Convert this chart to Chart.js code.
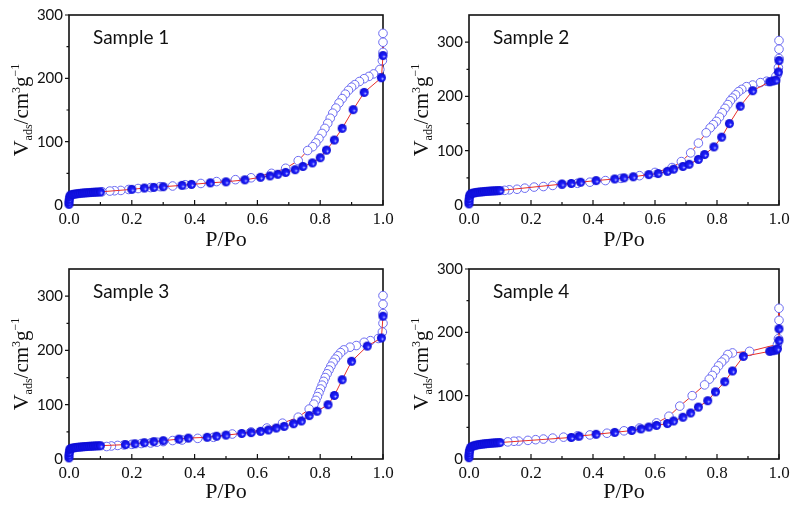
<!DOCTYPE html>
<html>
<head>
<meta charset="utf-8">
<script src="https://cdn.jsdelivr.net/npm/chart.js@4.4.0/dist/chart.umd.min.js"></script>
<style>
html, body { margin: 0; padding: 0; background: #fff; }
#wrap { position: relative; width: 796px; height: 506px; }
canvas { position: absolute; }
</style>
</head>
<body>
<div id="wrap">
  <canvas id="c1" width="400" height="254" style="left:0;top:0"></canvas>
  <canvas id="c2" width="396" height="254" style="left:400px;top:0"></canvas>
  <canvas id="c3" width="400" height="252" style="left:0;top:254px"></canvas>
  <canvas id="c4" width="396" height="252" style="left:400px;top:254px"></canvas>
</div>
<script>
// axis ticks
const xTicks = [0, 0.2, 0.4, 0.6, 0.8, 1.0];
const xMinorTicks = [0.1, 0.3, 0.5, 0.7, 0.9];
const yTicks = [0, 100, 200, 300];
const yMinorTicks = [50, 150, 250];
const sampleNames = ['Sample 1', 'Sample 2', 'Sample 3', 'Sample 4'];
const yMax = [300, 350, 350, 300];

// adsorption (filled) and desorption (open) branches, [P/Po, V]
const ads1 = [[0,1],[0,5],[0.001,9],[0.002,13],[0.005,15.5],[0.01,16.5],[0.016,17],[0.022,17.5],[0.029,18],[0.036,18.4],[0.043,18.8],[0.05,19.1],[0.057,19.4],[0.064,19.6],[0.071,19.9],[0.078,20.1],[0.085,20.3],[0.092,20.5],[0.1,20.7],
  [0.2,24.7],[0.24,26.8],[0.27,27.8],[0.3,28.9],[0.36,31],[0.39,32.5],[0.45,35],[0.5,36.6],[0.56,39.7],[0.61,43.8],[0.64,45.9],[0.665,48.5],[0.69,51.5],[0.72,55.7],[0.745,60.8],[0.775,66.5],[0.8,74.7],[0.82,86.6],[0.845,102.6],[0.87,121],[0.905,150.5],[0.94,177.8],[0.995,201],[1.0,236]];
const des1 = [[1.0,271],[1.0,257],[1.0,241],[0.998,228],[0.99,214],[0.97,207],[0.955,203],[0.94,199.5],[0.925,195],[0.91,190],[0.9,186],[0.89,181],[0.88,175],[0.87,168],[0.86,161],[0.85,153],[0.84,145],[0.832,137],[0.824,129],[0.815,121],[0.806,113],[0.796,105],[0.786,98],[0.776,92],[0.76,86],[0.73,70],[0.69,58],[0.645,50],[0.58,43],[0.53,40],[0.47,37],[0.42,34],[0.37,32],[0.33,30],[0.29,29],[0.26,27.5],[0.22,26],[0.19,24.5],[0.165,23],[0.145,22.5],[0.13,22],[0.105,21]];

const ads2 = [[0,2],[0,7],[0.001,12],[0.002,17],[0.005,20],[0.01,21.5],[0.016,22.3],[0.022,23],[0.029,23.5],[0.036,24],[0.043,24.4],[0.05,24.8],[0.057,25.1],[0.064,25.4],[0.071,25.7],[0.078,26],[0.085,26.2],[0.092,26.4],[0.1,26.6],
  [0.3,38.5],[0.33,39.7],[0.36,42],[0.41,45],[0.47,48],[0.5,50],[0.53,52],[0.58,56],[0.61,58],[0.64,62],[0.66,66],[0.69,71],[0.71,75],[0.74,84],[0.76,93],[0.79,107],[0.815,125],[0.84,150],[0.875,182],[0.915,210.5],[0.97,227],[0.98,228.5],[0.99,230],[0.998,245],[1.0,266]];
const des2 = [[1.0,303],[1.0,287],[1.0,270],[0.998,253],[0.995,240],[0.99,237],[0.96,228],[0.94,225.5],[0.915,221],[0.895,218],[0.88,213],[0.87,209],[0.86,203],[0.85,197],[0.843,192],[0.835,185],[0.826,178],[0.817,170],[0.808,162],[0.798,154],[0.788,148],[0.778,142],[0.765,133],[0.74,114],[0.715,96],[0.685,80],[0.655,69],[0.6,60],[0.55,54],[0.49,49],[0.44,45],[0.39,42],[0.35,40],[0.3,38],[0.27,36],[0.24,34],[0.21,33],[0.18,31],[0.155,29],[0.13,28],[0.115,27]];

const ads3 = [[0,2],[0,7],[0.001,12],[0.002,17],[0.005,19],[0.01,20],[0.016,20.7],[0.022,21.2],[0.029,21.7],[0.036,22.1],[0.043,22.5],[0.05,22.8],[0.057,23.1],[0.064,23.4],[0.071,23.6],[0.078,23.9],[0.085,24.1],[0.092,24.3],[0.1,24.5],
  [0.18,26.5],[0.21,28],[0.24,30],[0.27,32],[0.3,33.7],[0.35,36.7],[0.38,38.5],[0.44,40],[0.47,42],[0.5,44],[0.55,47],[0.58,48.7],[0.61,51],[0.635,53.5],[0.66,57],[0.685,60],[0.715,65],[0.74,70],[0.765,80],[0.79,88],[0.825,100],[0.845,117],[0.87,146],[0.9,180],[0.95,208],[0.995,223],[1.0,263]];
const des3 = [[1.0,301],[1.0,285],[1.0,268],[1.0,250],[0.998,234],[0.985,222],[0.96,218],[0.94,215],[0.915,209],[0.895,206],[0.875,201],[0.865,196],[0.856,190],[0.848,184],[0.841,178],[0.834,171],[0.828,164],[0.822,157],[0.816,150],[0.811,143],[0.806,136],[0.801,129],[0.796,122],[0.791,115],[0.786,108],[0.78,101],[0.765,92],[0.73,77],[0.68,66],[0.63,57],[0.58,50],[0.52,46],[0.46,40],[0.41,38],[0.36,35],[0.33,34],[0.3,32],[0.28,31],[0.26,29.5],[0.23,28.5],[0.2,27],[0.175,26],[0.155,25],[0.135,24],[0.12,23]];

const ads4 = [[0,2],[0,6],[0.001,10],[0.002,14],[0.005,18],[0.01,20],[0.016,21],[0.022,21.8],[0.029,22.5],[0.036,23],[0.043,23.5],[0.05,23.9],[0.057,24.3],[0.064,24.6],[0.071,24.9],[0.078,25.2],[0.085,25.5],[0.092,25.7],[0.1,26],
  [0.33,34],[0.355,36],[0.41,39],[0.47,42],[0.525,45],[0.555,47.5],[0.58,50.5],[0.605,53],[0.64,56],[0.66,60],[0.69,66],[0.715,72.7],[0.74,82],[0.77,92],[0.795,106],[0.825,122],[0.85,139],[0.885,162],[0.97,170],[0.98,171],[0.99,172],[0.995,174],[1.0,187],[1.0,205.5]];
const des4 = [[1.0,238],[1.0,219],[0.998,190],[0.995,181],[0.905,170],[0.85,167.5],[0.835,165],[0.825,158],[0.815,153],[0.805,147],[0.795,140],[0.785,132],[0.775,126],[0.76,117],[0.72,100],[0.68,83.5],[0.645,67.5],[0.605,57],[0.55,49],[0.5,44.5],[0.445,40.7],[0.39,38],[0.35,36.6],[0.305,34.5],[0.27,33],[0.24,31.5],[0.215,30.5],[0.19,29.4],[0.16,28.3],[0.145,28],[0.125,27]];

const adsSets = [ads1, ads2, ads3, ads4];
const desSets = [des1, des2, des3, des4];

// shaded ball for the filled markers
function makeBall(r) {
    const c = document.createElement('canvas');
    c.width = c.height = r * 2 + 2;
    const g = c.getContext('2d');
    const m = r + 1;
    const grad = g.createRadialGradient(m + r * 0.3, m + r * 0.3, 0.2, m, m, r);
    grad.addColorStop(0, '#d0d8ff');
    grad.addColorStop(0.3, '#2020ff');
    grad.addColorStop(1, '#0a0ad0');
    g.fillStyle = grad;
    g.beginPath();
    g.arc(m, m, r, 0, Math.PI * 2);
    g.fill();
    return c;
}
const ball = makeBall(4.5);

// frame + ticks (y outward, x inward)
const framePlugin = {
    id: 'frame',
    beforeDatasetsDraw(chart) {
        const ctx = chart.ctx, a = chart.chartArea;
        const xs = chart.scales.x, ys = chart.scales.y;
        ctx.save();
        ctx.strokeStyle = '#111';
        ctx.lineWidth = 1.6;
        ctx.strokeRect(a.left, a.top, a.right - a.left, a.bottom - a.top);
        ctx.lineWidth = 1.2;
        ctx.beginPath();
        xTicks.forEach(v => { const p = xs.getPixelForValue(v); ctx.moveTo(p, a.bottom); ctx.lineTo(p, a.bottom - 5); });
        xMinorTicks.forEach(v => { const p = xs.getPixelForValue(v); ctx.moveTo(p, a.bottom); ctx.lineTo(p, a.bottom - 3); });
        yTicks.forEach(v => { const p = ys.getPixelForValue(v); ctx.moveTo(a.left, p); ctx.lineTo(a.left - 4, p); });
        yMinorTicks.forEach(v => { const p = ys.getPixelForValue(v); ctx.moveTo(a.left, p); ctx.lineTo(a.left - 2.5, p); });
        ctx.stroke();
        ctx.restore();
    }
};

// y title with sub/superscripts, and the sample label
const labelPlugin = {
    id: 'labels',
    afterDraw(chart) {
        const ctx = chart.ctx, a = chart.chartArea;
        const parts = [['V', 22, 0], ['ads', 12, 4], ['/cm', 21, 0], ['3', 12, -8], ['g', 21, 0], ['\u22121', 12, -9]];
        ctx.save();
        ctx.fillStyle = '#111';
        let total = 0;
        parts.forEach(p => { ctx.font = p[1] + 'px "Liberation Serif"'; total += ctx.measureText(p[0]).width; });
        ctx.translate(28, (a.top + a.bottom) / 2);
        ctx.rotate(-Math.PI / 2);
        let x = -total / 2;
        parts.forEach(p => {
            ctx.font = p[1] + 'px "Liberation Serif"';
            ctx.fillText(p[0], x, p[2]);
            x += ctx.measureText(p[0]).width;
        });
        ctx.restore();

        ctx.save();
        ctx.fillStyle = '#111';
        ctx.font = '19px Lato';
        ctx.fillText(chart.options.plugins.labels.name, 93, 44);
        ctx.restore();
    }
};

function makePanel(id, i) {
    const canvas = document.getElementById(id);
    const H = canvas.height;
    new Chart(canvas, {
        type: 'scatter',
        data: {
            datasets: [
                {
                    label: 'adsorption',
                    data: adsSets[i].map(d => ({ x: d[0], y: d[1] })),
                    showLine: true,
                    borderColor: '#e8302a',
                    borderWidth: 1,
                    pointStyle: ball,
                    pointRadius: 4.5,
                    clip: false
                },
                {
                    label: 'desorption',
                    data: desSets[i].map(d => ({ x: d[0], y: d[1] })),
                    showLine: true,
                    borderColor: '#e8302a',
                    borderWidth: 1,
                    pointStyle: 'circle',
                    pointRadius: 4.3,
                    pointBorderColor: '#6b6bf2',
                    pointBackgroundColor: '#ffffff',
                    pointBorderWidth: 1,
                    clip: false
                }
            ]
        },
        options: {
            responsive: false,
            animation: false,
            layout: { padding: { left: 0, right: 17, top: 11, bottom: 0 } },
            plugins: { legend: { display: false }, tooltip: { enabled: false }, labels: { name: sampleNames[i] } },
            scales: {
                x: {
                    type: 'linear',
                    min: 0, max: 1,
                    afterBuildTicks: s => { s.ticks = xTicks.map(v => ({ value: v })); },
                    afterFit: s => { s.height = H - 205; },
                    grid: { display: false, drawTicks: false },
                    border: { display: false },
                    ticks: {
                        padding: 4,
                        color: '#111',
                        font: { family: 'Liberation Serif', size: 17 },
                        callback: v => v.toFixed(1)
                    },
                    title: {
                        display: true,
                        text: 'P/Po',
                        color: '#111',
                        font: { family: 'Liberation Serif', size: 22, lineHeight: 1.1 },
                        padding: { top: 0, bottom: 2 }
                    }
                },
                y: {
                    type: 'linear',
                    min: 0, max: yMax[i],
                    afterBuildTicks: s => { s.ticks = yTicks.map(v => ({ value: v })); },
                    afterFit: s => { s.width = 69; },
                    grid: { display: false, drawTicks: false },
                    border: { display: false },
                    ticks: {
                        padding: 6,
                        color: '#111',
                        font: { family: 'Lato', size: 15 }
                    }
                }
            }
        },
        plugins: [framePlugin, labelPlugin]
    });
}

makePanel('c1', 0);
makePanel('c2', 1);
makePanel('c3', 2);
makePanel('c4', 3);
</script>
</body>
</html>
